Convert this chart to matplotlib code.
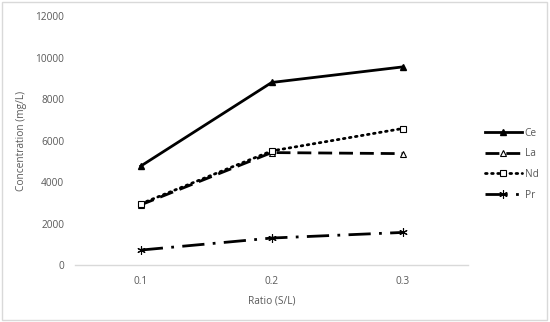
import matplotlib.pyplot as plt

# data
ratios = ['0.1', '0.2', '0.3']
ce = [4770, 8800, 9550]
la = [2900, 5420, 5370]
nd = [2950, 5500, 6580]
pr = [720, 1300, 1570]

plt.rcParams['font.family'] = ['Open Sans', 'DejaVu Sans']
grey = '#595959'

fig = plt.figure(figsize=(5.5, 3.22), dpi=100)
fig.patches.append(plt.Rectangle((0.003, 0.005), 0.992, 0.99, transform=fig.transFigure,
                                 fill=False, edgecolor='#d9d9d9', linewidth=1))
ax = fig.add_axes([0.137, 0.177, 0.714, 0.773])

x = range(len(ratios))
ax.plot(x, ce, color='black', linewidth=2, linestyle='-', marker='^', markersize=4.5,
        label='Ce')
ax.plot(x, la, color='black', linewidth=2, linestyle=(0, (5, 2.5)), marker='^',
        markersize=4.5, markerfacecolor='white', markeredgewidth=0.8, label='La')
ax.plot(x, nd, color='black', linewidth=2, linestyle=(0, (0.6, 1.6)), marker='s',
        markersize=4.5, markerfacecolor='white', markeredgewidth=0.8,
        dash_capstyle='round', label='Nd')
ax.plot(x, pr, color='black', linewidth=2, linestyle=(0, (8, 3, 1, 3)),
        marker=(6, 2, 0), markersize=6, markeredgewidth=0.8, label='Pr')

ax.set_xlim(-0.5, 2.5)
ax.set_ylim(0, 12000)
ax.set_yticks(range(0, 12001, 2000))
ax.set_xticks(list(x))
ax.set_xticklabels(ratios)
ax.tick_params(length=0, labelsize=7.3, colors=grey, pad=8)
for s in ['top', 'right', 'left']:
    ax.spines[s].set_visible(False)
ax.spines['bottom'].set_color('#d9d9d9')
ax.spines['bottom'].set_linewidth(1)

ax.set_xlabel('Ratio (S/L)', fontsize=7.3, color=grey, labelpad=6)
ax.set_ylabel('Concentration (mg/L)', fontsize=7.3, color=grey, labelpad=6)

leg = ax.legend(loc='center left', bbox_to_anchor=(1.02, 0.405), frameon=False,
                fontsize=7.3, handlelength=3.6, labelspacing=0.95, handletextpad=0.3)
for t in leg.get_texts():
    t.set_color(grey)

fig.savefig('out.png', dpi=100)
